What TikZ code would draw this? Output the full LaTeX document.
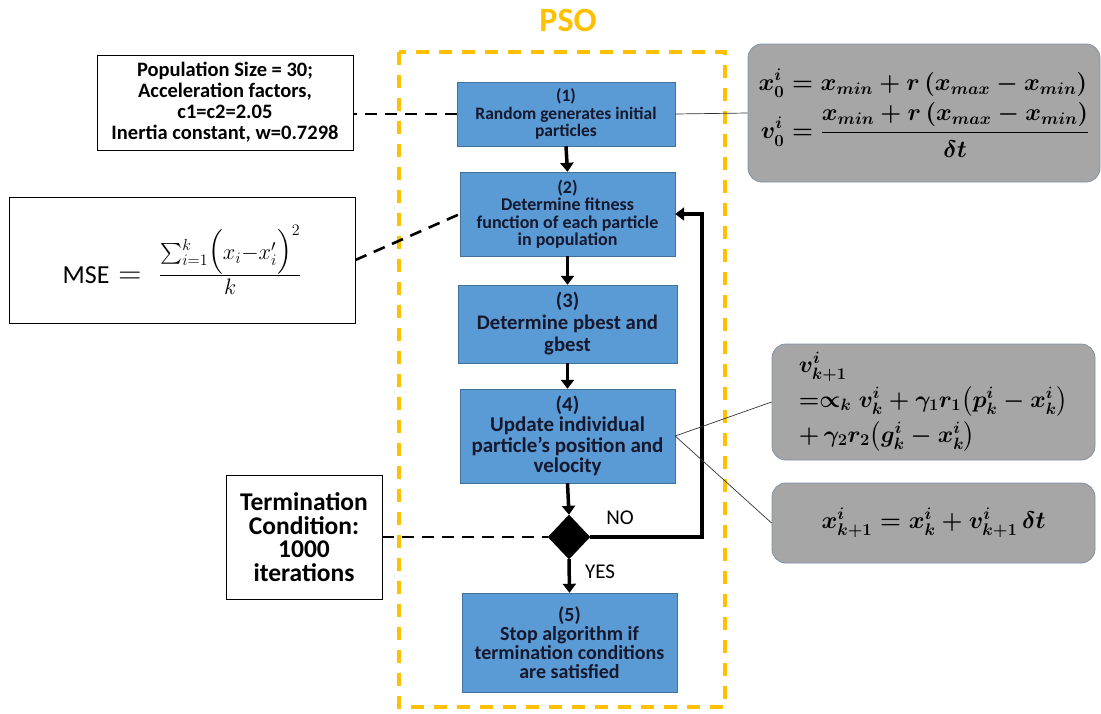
\documentclass[tikz,border=0pt]{standalone}
\usepackage{fix-cm}
\usepackage{amsmath}
\usepackage{bm}
\usepackage{fontspec}
\setmainfont{Carlito}
\usetikzlibrary{shapes.geometric,arrows.meta}
\definecolor{pblue}{RGB}{91,155,213}
\definecolor{pblueline}{RGB}{65,113,156}
\definecolor{pgold}{RGB}{255,192,0}
\definecolor{pgrey}{RGB}{166,166,166}
\definecolor{pgreyline}{RGB}{128,144,164}
\definecolor{ptext}{RGB}{22,24,45}

\begin{document}
\begin{tikzpicture}[x=1pt,y=-1pt]
  \tikzset{flow box/.style 2 args={draw=pblueline,fill=pblue,text=ptext,align=center,inner sep=2pt,font=\bfseries\fontsize{#1}{#2}\selectfont},
    note box/.style={draw=black,fill=white,align=center,line width=0.8pt},
    eq box/.style={draw=pgreyline,fill=pgrey,rounded corners=14pt,line width=0.8pt,align=center},
    flow/.style={line width=3.5pt,-{Triangle[width=13pt,length=9pt]}},
    link/.style={line width=2.6pt,dash pattern=on 12pt off 8pt},
    thin link/.style={line width=0.7pt,black!80}}
  \useasboundingbox (0,0) rectangle (1101,713);

  % PSO frame
  \node[text=pgold,font=\bfseries\fontsize{34}{38}\selectfont] (title) at (568,20) {PSO};
  \draw[pgold,line width=4pt,dash pattern=on 13pt off 10pt] (399,52) rectangle (725,707);

  % steps
  \node[flow box={17.5}{17.5},minimum width=218pt,minimum height=64pt] (S1) at (566,114) {(1)\\Random generates initial\\particles};
  \node[flow box={18}{17.5},minimum width=215pt,minimum height=84pt] (S2) at (567.5,214) {(2)\\Determine fitness\\function of each particle\\in population};
  \node[flow box={20.7}{22},minimum width=219pt,minimum height=78pt] (S3) at (567.5,324) {(3)\\Determine pbest and\\gbest};
  \node[flow box={21}{20.5},minimum width=215pt,minimum height=94pt] (S4) at (567.5,436) {(4)\\Update individual\\particle’s position and\\velocity};
  \node[diamond,fill=black,draw=black,inner sep=0pt,minimum width=42pt,minimum height=44pt] (D) at (569,537) {};
  \node[flow box={20}{19},minimum width=215pt,minimum height=99pt] (S5) at (569.5,642.5) {(5)\\Stop algorithm if\\termination conditions\\are satisfied};

  \draw[flow] (S1.south) -- (S2.north);
  \draw[flow] (S2.south) -- (S3.north);
  \draw[flow] (S3.south) -- (S4.north);
  \draw[flow] (S4.south) -- (D.north);
  \draw[flow] (D.south) -- (S5.north);
  \coordinate (L) at (702,537);
  \draw[flow] (D.east) -- (L) |- (S2.east);
  \node[font=\fontsize{21}{24}\selectfont] (no) at (620,518) {NO};
  \node[font=\fontsize{21}{24}\selectfont] (yes) at (600,572) {YES};

  % notes on the left
  \node[note box,minimum width=256pt,minimum height=95pt,font=\bfseries\fontsize{20.5}{21}\selectfont] (P) at (225,102.5) {Population Size = 30;\\Acceleration factors,\\c1=c2=2.05\\Inertia constant, w=0.7298};
  \node[note box,minimum width=346pt,minimum height=126pt,font=\fontsize{26}{30}\selectfont] (M) at (182,260) {MSE{\fontsize{32}{36}\selectfont$\;=\;\frac{\sum_{i=1}^{k}\bigl(x_i - x_i'\bigr)^2}{k}$}};
  \node[note box,minimum width=156pt,minimum height=124pt,font=\bfseries\fontsize{25.5}{23.5}\selectfont] (T) at (304,537) {Termination\\Condition:\\1000\\iterations};

  \draw[link] (S1.west) -- (S1.west -| P.east);
  \draw[link] (M.east) -- (S2.west);
  \draw[link] (T.east) -- (D.west);

  % equations on the right
  \node[eq box,minimum width=352pt,minimum height=138pt,font=\fontsize{24}{28}\selectfont\boldmath] (E1) at (924,113) {$\begin{aligned} x_0^i &= x_{min} + r\,(x_{max}-x_{min})\\ v_0^i &= \dfrac{x_{min}+r\,(x_{max}-x_{min})}{\delta t}\end{aligned}$};
  \node[eq box,align=left,minimum width=323pt,minimum height=116pt,font=\fontsize{23.5}{33}\selectfont\boldmath] (E2) at (933.5,402) {$v_{k+1}^i$\\[2pt] $=\propto_k v_k^i + \gamma_1 r_1\bigl(p_k^i - x_k^i\bigr)$\\[2pt] $+\,\gamma_2 r_2\bigl(g_k^i - x_k^i\bigr)$};
  \node[eq box,minimum width=323pt,minimum height=80pt,font=\fontsize{24}{28}\selectfont\boldmath] (E3) at (933.5,523) {$x_{k+1}^i = x_k^i + v_{k+1}^i\,\delta t$};

  \draw[thin link] (S1.east) -- (E1.west);
  \draw[thin link] (S4.east) -- (E2.west);
  \draw[thin link] (S4.east) -- (E3.west);
\end{tikzpicture}
\end{document}
